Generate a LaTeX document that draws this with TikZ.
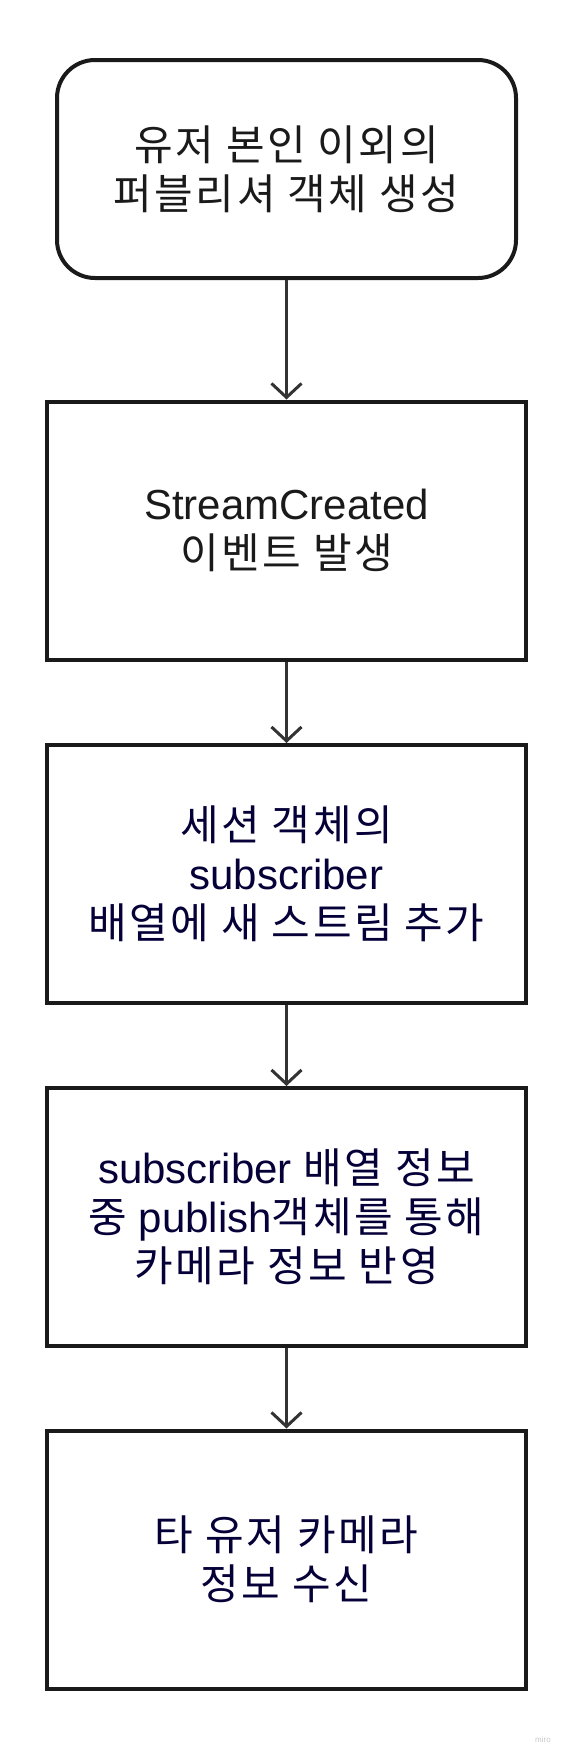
\documentclass[tikz,border=0pt]{standalone}
\usepackage{fontspec}
\setmainfont{Liberation Sans}
\newfontfamily\kr[Scale=1.0, LetterSpace=6]{Noto Sans CJK KR}
\usetikzlibrary{arrows.meta}
\definecolor{boxline}{HTML}{1A1A1A}
\definecolor{arrowline}{HTML}{333333}
\definecolor{inktext}{HTML}{1A1A1A}
\definecolor{navytext}{HTML}{050038}
\begin{document}
\begin{tikzpicture}[x=1pt, y=-1pt,
  box/.style={draw=boxline, line width=4pt, fill=white, minimum width=479pt, minimum height=258pt, inner sep=0pt, align=center, font=\fontsize{42}{49}\selectfont, text=navytext},
  startbox/.style={box, rounded corners=38pt, minimum width=459pt, minimum height=218pt, text=inktext},
  flow/.style={draw=arrowline, line width=3pt, -{Straight Barb[length=14pt, width=30pt]}}]
\useasboundingbox (0,0) rectangle (569,1754);
\node[startbox] (start) at (286.5,169) {{\kr 유저 본인 이외의}\\{\kr 퍼블리셔 객체 생성}};
\node[box, text=inktext] (stream) at (286.5,530.5) {StreamCreated\\{\kr 이벤트 발생}};
\node[box] (session) at (286.5,874) {{\kr 세션 객체의}\\subscriber\\{\kr 배열에 새 스트림 추가}};
\node[box] (publish) at (286.5,1217) {subscriber {\kr 배열 정보}\\{\kr 중} publish{\kr 객체를 통해}\\{\kr 카메라 정보 반영}};
\node[box] (receive) at (286.5,1559.5) {{\kr 타 유저 카메라}\\{\kr 정보 수신}};
\node[text=black!22, font=\fontsize{8}{8}\selectfont, inner sep=0pt] (watermark) at (543,1740) {miro};

\draw[flow] (start) -- (stream);
\draw[flow] (stream) -- (session);
\draw[flow] (session) -- (publish);
\draw[flow] (publish) -- (receive);
\end{tikzpicture}
\end{document}
